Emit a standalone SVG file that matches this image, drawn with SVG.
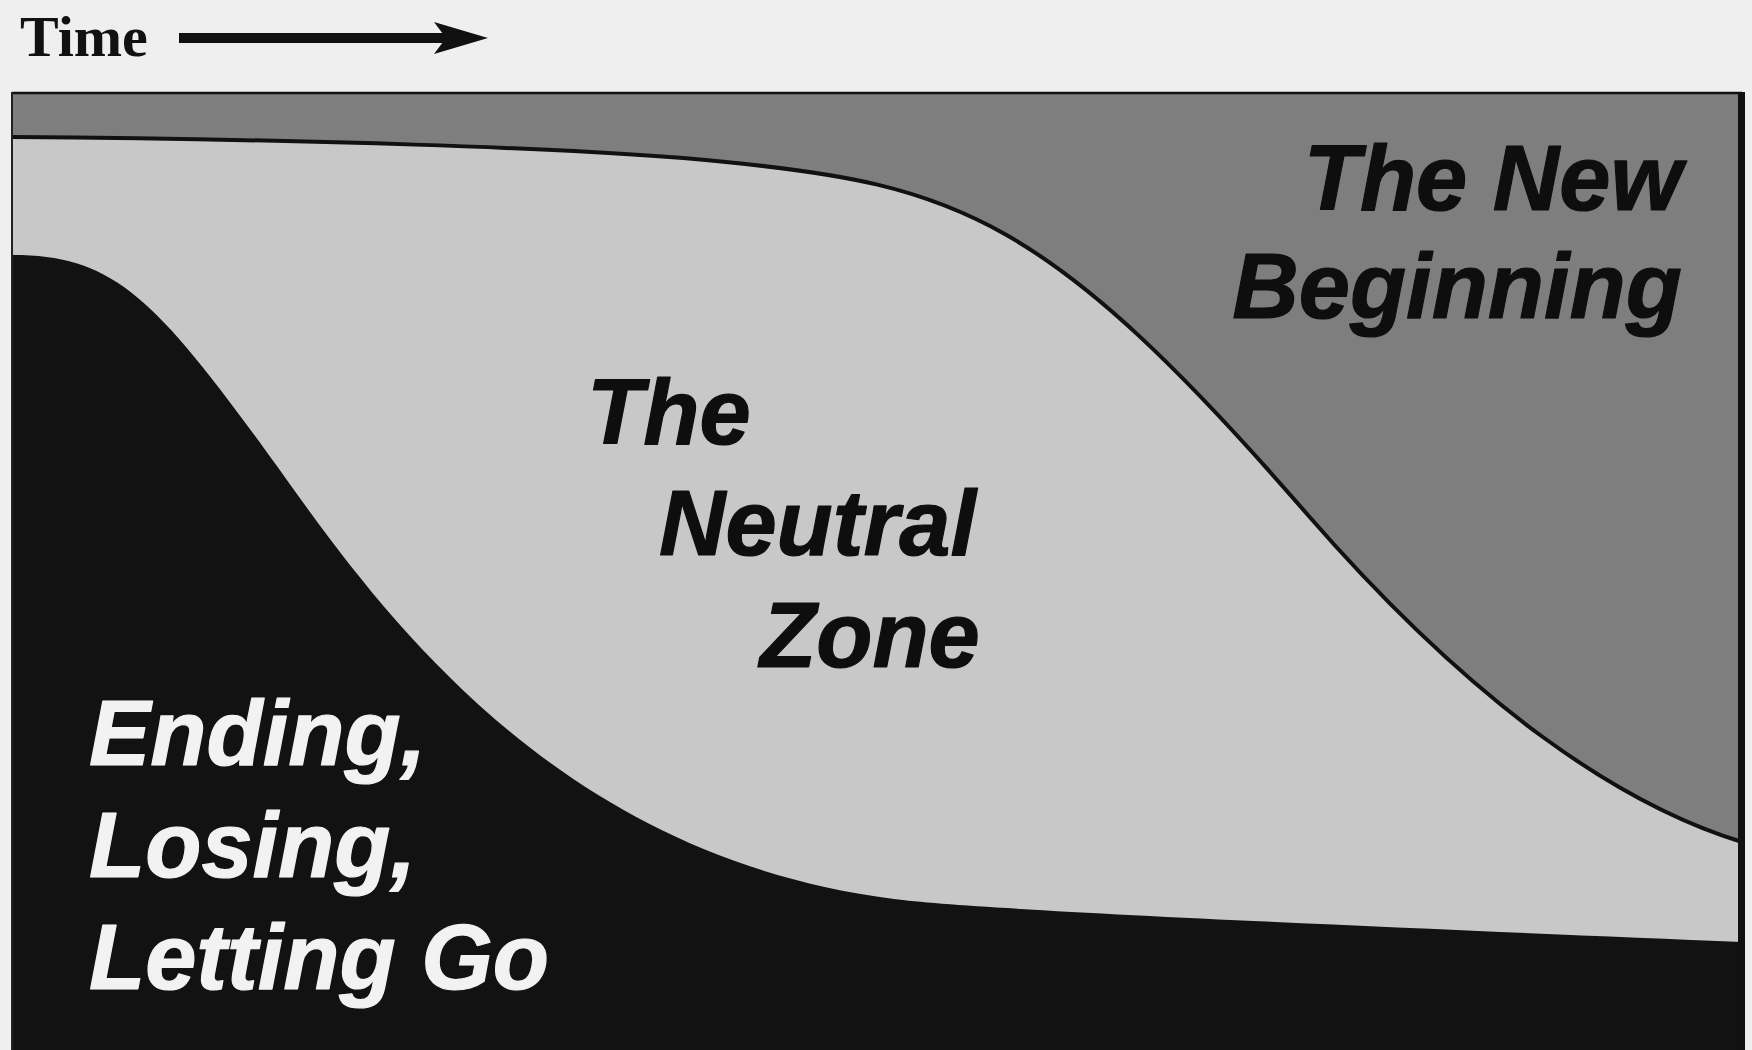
<svg xmlns="http://www.w3.org/2000/svg" width="1752" height="1050" viewBox="0 0 1752 1050">
<style>
.lbl{font-family:"Liberation Sans",Arial,Helvetica,sans-serif;font-weight:bold;font-style:italic;font-size:92px;stroke-width:1.2;stroke-linejoin:round}
.dark{fill:#0e0e0e;stroke:#0e0e0e}
.light{fill:#f2f2f2;stroke:#f2f2f2}
</style>
<defs>
<path id="upper" d="M13,137 C279,139 581,147 726,162 C956,185 1048,215 1307,514 C1475,707 1621,805 1742,842"/>
</defs>
<rect x="0" y="0" width="1752" height="1050" fill="#efefef"/>
<g id="title">
<text x="20" y="56" font-family="'Liberation Serif','Times New Roman',serif" font-weight="bold" font-size="58" fill="#111">Time</text>
</g>
<g id="connectors">
<line x1="179" y1="38" x2="448" y2="38" stroke="#111" stroke-width="10"/>
<polygon points="488,38 434,22 446,38 434,54" fill="#111"/>
</g>
<g id="new-beginning">
<rect x="13" y="93" width="1729" height="957" fill="#7e7e7e"/>
</g>
<g id="neutral-zone">
<path d="M13,137 C279,139 581,147 726,162 C956,185 1048,215 1307,514 C1475,707 1621,805 1742,842 L1742,1050 L13,1050 Z" fill="#c8c8c8"/>
<use href="#upper" fill="none" stroke="#111" stroke-width="4"/>
</g>
<g id="ending">
<path d="M13,255 C121,255 161,304 302,501 C415,658 588,860 894,899 C983,911 1452,930 1742,942 L1742,1050 L13,1050 Z" fill="#121212"/>
</g>
<g id="frame">
<line x1="12" y1="93" x2="1742" y2="93" stroke="#111" stroke-width="2.5"/>
<line x1="12" y1="92" x2="12" y2="1050" stroke="#222" stroke-width="2"/>
<line x1="1741.5" y1="92" x2="1741.5" y2="1050" stroke="#111" stroke-width="7"/>
</g>
<g id="label-new">
<text class="lbl dark" x="1682" y="210" text-anchor="end">The New</text>
<text class="lbl dark" x="1682" y="318" text-anchor="end">Beginning</text>
</g>
<g id="label-neutral">
<text class="lbl dark" x="587" y="444">The</text>
<text class="lbl dark" x="659" y="555">Neutral</text>
<text class="lbl dark" x="760" y="667">Zone</text>
</g>
<g id="label-ending">
<text class="lbl light" x="89" y="765">Ending,</text>
<text class="lbl light" x="89" y="877">Losing,</text>
<text class="lbl light" x="89" y="989">Letting Go</text>
</g>
</svg>
